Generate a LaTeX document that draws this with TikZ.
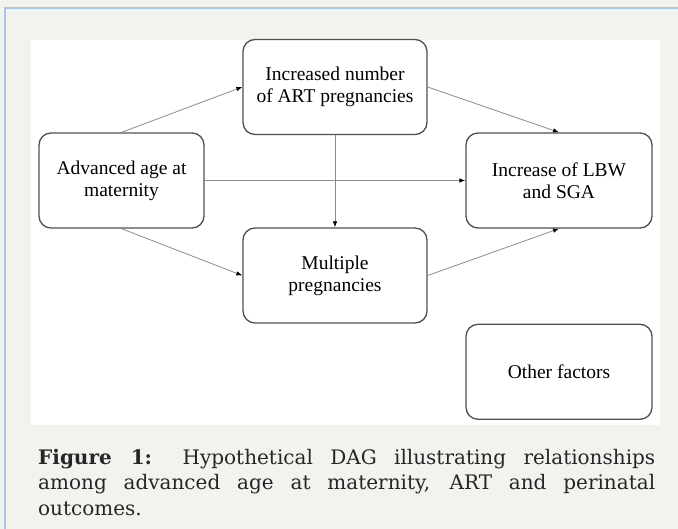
\documentclass[tikz,border=0pt]{standalone}
\usepackage{fontspec}
\setmainfont{Liberation Serif}
\newfontfamily\capfont{DejaVu Serif}
\usepackage{tikz}
\usetikzlibrary{positioning, arrows.meta}
\definecolor{pagebg}{HTML}{F2F2EE}
\definecolor{frameblue}{HTML}{A9C6E9}
\definecolor{boxline}{HTML}{505050}
\definecolor{arrowgray}{HTML}{8C8C8C}
\tikzset{
	dagbox/.style={draw=boxline, line width=1.3pt, rounded corners=12pt, fill=white,
			minimum height=95pt, align=center, font=\fontsize{19.5}{22}\selectfont}
}
\tikzset{
	dagarrow/.style={draw=arrowgray, line width=0.8pt, -{Latex[length=6pt,width=4.5pt,color=black]}}
}
\tikzset{
	captext/.style={font=\capfont\fontsize{20}{25.5}\selectfont, text=black!85}
}
\begin{document}
\begin{tikzpicture}[x=1pt, y=-1pt]

			\fill[pagebg] (0,0) rectangle (678,529);
			\useasboundingbox (0,0) rectangle (678,529);
			\draw[frameblue, line width=1.5pt] (5,529) |- (678,8);
			\fill[white] (31,40) rectangle (660,425);

			\begin{scope}
				\coordinate (cAge) at (121.5,180.5);
				\coordinate (cArt) at (335,87);
				\coordinate (cMult) at (335,275.5);
				\coordinate (cLbw) at (559,180.5);

				\node[dagbox, minimum width=165pt] (age) at (cAge) {Advanced age at\\maternity};
				\node[dagbox, minimum width=184pt] (art) at (cArt) {Increased number\\of ART pregnancies};
				\node[dagbox, minimum width=184pt] (mult) at (cMult) {Multiple\\pregnancies};
				\node[dagbox, minimum width=186pt] (lbw) at (cLbw) {Increase of LBW\\and SGA};
				\node[dagbox, minimum width=186pt, below=95pt of lbw] (other) {Other factors};
			\end{scope}

			\begin{scope}
				\draw[dagarrow] (age.north) -- (art.west);
				\draw[dagarrow] (age.east) -- (lbw.west);
				\draw[dagarrow] (age.south) -- (mult.west);
				\draw[dagarrow] (art.south) -- (mult.north);
				\draw[dagarrow] (art.east) -- (lbw.north);
				\draw[dagarrow] (mult.east) -- (lbw.south);
			\end{scope}

			\node[captext, anchor=north west, text width=617pt, align=justify, inner sep=0pt] (caption) at (38,449)
			{\noindent\textbf{Figure 1:} Hypothetical DAG illustrating relationships\linebreak
				among advanced age at maternity, ART and perinatal\linebreak
				outcomes.};

		\end{tikzpicture}
\end{document}
